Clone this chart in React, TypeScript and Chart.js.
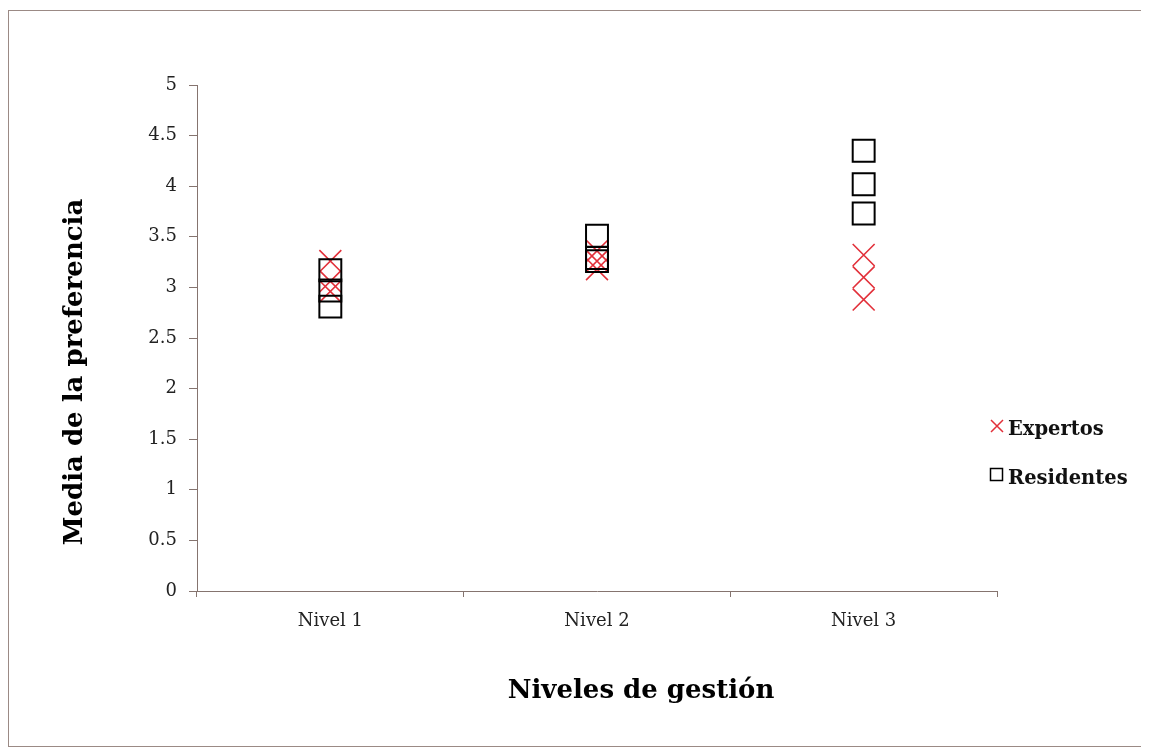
import React, { useEffect, useRef } from 'react';
import { Chart, registerables } from 'chart.js';

Chart.register(...registerables);

const categories = ['Nivel 1', 'Nivel 2', 'Nivel 3'];
const seriesNames = ['Expertos', 'Residentes'];
const xTitle = 'Niveles de gestión';
const yTitle = 'Media de la preferencia';
const yMin = 0;
const yMax = 5;
const yStep = 0.5;

const expertosLevels = ['Nivel 1', 'Nivel 1', 'Nivel 1', 'Nivel 2', 'Nivel 2', 'Nivel 2', 'Nivel 3', 'Nivel 3', 'Nivel 3'];
const expertosValues = [3.26, 3.06, 2.96, 3.36, 3.26, 3.18, 3.32, 3.1, 2.88];
const residentesLevels = ['Nivel 1', 'Nivel 1', 'Nivel 1', 'Nivel 2', 'Nivel 2', 'Nivel 2', 'Nivel 3', 'Nivel 3', 'Nivel 3'];
const residentesValues = [3.17, 2.97, 2.81, 3.51, 3.29, 3.26, 4.35, 4.02, 3.73];

const RED = 'rgb(226, 48, 58)';
const AXIS = '#85746f';
const TICK_TEXT = '#222222';
const FONT = '"DejaVu Serif", serif';

export default function App() {
  const ref = useRef<HTMLCanvasElement | null>(null);

  useEffect(() => {
    if (!ref.current) return;
    const overlay = {
      id: 'titlesAndLegend',
      afterDraw(chart: any) {
        const ctx = chart.ctx as CanvasRenderingContext2D;
        ctx.save();
        ctx.fillStyle = '#000';
        ctx.font = `bold 26px ${FONT}`;
        ctx.textAlign = 'center';
        ctx.textBaseline = 'middle';
        ctx.fillText(xTitle, 632, 680);
        ctx.save();
        ctx.translate(66, 361);
        ctx.rotate(-Math.PI / 2);
        ctx.fillText(yTitle, 0, 0);
        ctx.restore();

        // legend
        ctx.lineWidth = 1.5;
        ctx.strokeStyle = RED;
        const cx = 988, cy = 415, h = 6;
        ctx.beginPath();
        ctx.moveTo(cx - h, cy - h); ctx.lineTo(cx + h, cy + h);
        ctx.moveTo(cx + h, cy - h); ctx.lineTo(cx - h, cy + h);
        ctx.stroke();
        ctx.strokeStyle = '#000';
        ctx.strokeRect(981.5, 457.5, 12, 12);
        ctx.fillStyle = '#111';
        ctx.font = `bold 19.5px ${FONT}`;
        ctx.textAlign = 'left';
        ctx.fillText(seriesNames[0], 999, 419);
        ctx.fillText(seriesNames[1], 999, 468);
        ctx.restore();
      },
    };

    const chart = new Chart(ref.current, {
      type: 'scatter',
      data: {
        datasets: [
          {
            label: seriesNames[0],
            data: expertosLevels.map((x, i) => ({ x, y: expertosValues[i] })) as any,
            pointStyle: 'crossRot',
            pointRadius: 15.5,
            pointHoverRadius: 15.5,
            pointBorderColor: RED,
            pointBackgroundColor: 'rgba(0,0,0,0)',
            pointBorderWidth: 1.6,
            showLine: false,
            order: 2,
          },
          {
            label: seriesNames[1],
            data: residentesLevels.map((x, i) => ({ x, y: residentesValues[i] })) as any,
            pointStyle: 'rect',
            pointRadius: 15.5,
            pointHoverRadius: 15.5,
            pointBorderColor: '#000',
            pointBackgroundColor: 'rgba(0,0,0,0)',
            pointBorderWidth: 2,
            showLine: false,
            order: 1,
          },
        ],
      },
      options: {
        responsive: false,
        animation: false,
        events: [],
        layout: { padding: { left: 0, top: 74, right: 146, bottom: 0 } },
        plugins: { legend: { display: false }, tooltip: { enabled: false } },
        scales: {
          x: {
            type: 'category',
            labels: categories,
            offset: true,
            grid: { offset: true, drawOnChartArea: false, drawTicks: true, tickLength: 6, color: AXIS },
            border: { color: AXIS, width: 1 },
            ticks: { color: TICK_TEXT, font: { family: FONT, size: 18 }, padding: 14, maxRotation: 0 },
            afterFit(s: any) { s.height = 155; },
          },
          y: {
            type: 'linear',
            min: yMin,
            max: yMax,
            ticks: {
              stepSize: yStep,
              color: TICK_TEXT,
              font: { family: FONT, size: 18 },
              padding: 12,
              callback: (v: any) => String(Number(v)),
            },
            grid: { drawOnChartArea: false, tickLength: 8, color: AXIS },
            border: { color: AXIS, width: 1 },
            afterFit(s: any) { s.width = 188; },
          },
        },
      },
      plugins: [overlay],
    });
    return () => chart.destroy();
  }, []);

  return (
    <div style={{ marginTop: 2, width: 1134, height: 735, border: '1px solid #9b8a85', background: '#fff' }}>
      <canvas ref={ref} width={1134} height={735} style={{ display: 'block' }} />
    </div>
  );
}
